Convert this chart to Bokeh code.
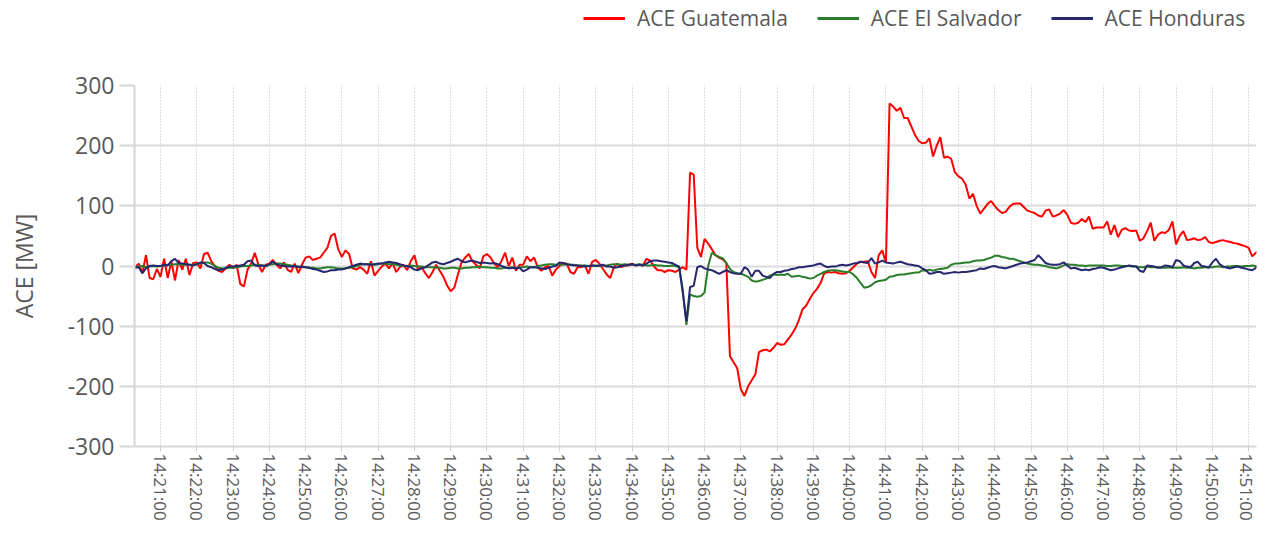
from bokeh.plotting import figure
from bokeh.layouts import column
from bokeh.models import FixedTicker, Range1d, Legend, LegendItem
from bokeh.embed import file_html
from bokeh.resources import INLINE

# Sampling grid: seconds after 14:20:00, one sample every 6 s starting 14:20:18
start_seconds = 18
step_seconds = 6

ace_guatemala = [
    -2, 4, -12, 18, -20, -22, -5,                       # 14:20:18-
    -18, 12, -20, 8, -24, 10, -6, 12, -15, 5,           # 14:21
    6, -4, 20, 22, 8, 0, -8, -10, -4, 2,                # 14:22
    -4, 2, -30, -34, -6, 4, 22, 2, -10, 2,              # 14:23
    4, 10, 2, -4, 6, -6, -10, 4, -12, 2,                # 14:24
    14, 16, 10, 12, 14, 22, 30, 50, 54, 28,             # 14:25
    15, 26, 20, -4, -6, -2, -6, -13, 8, -16,            # 14:26
    -8, -1, 4, -4, 5, -10, -2, 2, -7, 8,                # 14:27
    18, -6, -2, -12, -20, -10, 2, -8, -18, -32,         # 14:28
    -42, -36, -14, 6, 14, 20, 8, 2, -4, 16,             # 14:29
    20, 14, 4, -2, 8, 22, 0, 14, -8, 2,                 # 14:30
    2, 16, 8, 14, -2, -8, -2, 0, -16, -6,               # 14:31
    0, 4, 4, -10, -13, -2, -2, 1, -13, 7,               # 14:32
    10, 4, -5, -14, -20, -2, 4, -2, 1, 1,               # 14:33
    4, 1, 2, 1, 12, 9, 0, -7, -7, -10,                  # 14:34
    -7, -8, -10, -6, -2, -6, 155, 152, 30, 15,          # 14:35
    45, 37, 28, 18, 14, 11, 5, -150, -160, -170,        # 14:36
    -205, -216, -200, -190, -180, -143, -140, -139, -142, -136,  # 14:37
    -128, -131, -130, -122, -114, -104, -90, -72, -66, -55,      # 14:38
    -45, -38, -28, -12, -10, -11, -10, -12, -13, -12,   # 14:39
    -8, -2, 4, 7, 7, 8, -10, -20, 18, 26,               # 14:40
    5, 270, 265, 258, 263, 246, 246, 232, 218, 208,     # 14:41
    204, 205, 212, 182, 200, 214, 180, 182, 178, 156,   # 14:42
    149, 145, 135, 112, 120, 100, 87, 95, 103, 108,     # 14:43
    100, 93, 88, 90, 98, 103, 104, 104, 98, 92,         # 14:44
    90, 88, 84, 82, 92, 94, 82, 84, 87, 93,             # 14:45
    85, 72, 70, 72, 78, 73, 82, 62, 64, 64,             # 14:46
    64, 74, 52, 68, 48, 60, 63, 59, 58, 59,             # 14:47
    42, 46, 58, 72, 42, 52, 56, 55, 60, 74,             # 14:48
    36, 50, 58, 43, 44, 46, 43, 44, 48, 40,             # 14:49
    38, 40, 42, 43, 41, 40, 38, 37, 35, 33,             # 14:50
    30, 16, 22, 24, 12, 20, 3,                          # 14:51
]

ace_el_salvador = [
    -2, -1, 0, -2, -1, 0, -1,                           # 14:20:18-
    0, 1, 2, 2, 3, 3, 2, 3, 2, 2,                       # 14:21
    3, 4, 6, 6, 4, 0, -3, -4, -4, -3,                   # 14:22
    -3, -2, -1, 0, 0, 1, 2, 2, 1, 0,                    # 14:23
    2, 3, 4, 4, 3, 2, 1, 0, -1, -2,                     # 14:24
    -2, -3, -3, -4, -4, -3, -2, -2, -3, -4,             # 14:25
    -4, -4, -3, -2, 0, 2, 3, 3, 3, 2,                   # 14:26
    3, 4, 4, 3, 3, 2, 1, 0, 0, 1,                       # 14:27
    0, -1, -1, -2, -2, -2, -3, -3, -4, -4,              # 14:28
    -3, -3, -4, -4, -3, -3, -2, -2, -1, -2,             # 14:29
    -2, -3, -3, -4, -4, -3, -3, -2, -3, -2,             # 14:30
    -2, -1, -2, -2, 0, 1, 2, 3, 3, 2,                   # 14:31
    3, 2, 3, 2, 2, 1, 1, 1, 0, 1,                       # 14:32
    1, 0, 1, 1, 2, 3, 3, 2, 3, 2,                       # 14:33
    2, 2, 3, 2, 1, 1, 2, 1, 1, 0,                       # 14:34
    0, 1, 0, -2, -40, -98, -47, -50, -51, -50,          # 14:35
    -44, 0, 22, 18, 15, 13, 5, -5, -10, -12,            # 14:36
    -13, -15, -18, -24, -26, -25, -23, -21, -16, -14,   # 14:37
    -15, -14, -15, -13, -18, -17, -16, -18, -19, -21,   # 14:38
    -20, -16, -13, -10, -8, -7, -7, -8, -9, -10,        # 14:39
    -10, -14, -20, -28, -36, -35, -32, -27, -25, -24,   # 14:40
    -23, -18, -17, -15, -14, -14, -13, -12, -11, -11,   # 14:41
    -7, -8, -6, -8, -6, -5, -4, -3, 2, 4,               # 14:42
    4, 5, 6, 6, 8, 9, 9, 10, 12, 14,                    # 14:43
    17, 17, 15, 14, 12, 12, 10, 8, 6, 4,                # 14:44
    3, 2, 2, 1, 0, -2, -3, -4, -2, 1,                   # 14:45
    3, 2, 2, 1, 1, 0, 1, 1, 1, 1,                       # 14:46
    1, 0, 0, 1, 1, 0, 0, 0, -1, -1,                     # 14:47
    -2, -2, -1, -2, -2, -2, -3, -3, -2, -3,             # 14:48
    -3, -3, -2, -3, -3, -4, -3, -3, -2, -2,             # 14:49
    -2, -1, -1, -2, -1, -1, 0, 0, -1, 0,                # 14:50
    0, 1, 0, 1, 0, 1, 0,                                # 14:51
]

ace_honduras = [
    -3, -2, -12, -4, 0, 1, 0,                           # 14:20:18-
    0, 2, 1, 8, 12, 5, 4, 3, 2, 1,                      # 14:21
    3, 6, 5, 0, -2, -5, -7, -6, -3, -1,                 # 14:22
    -1, 0, 1, 2, 8, 9, 1, 0, 1, 0,                      # 14:23
    3, 7, 3, 1, 0, -1, -1, 0, -2, -1,                   # 14:24
    -2, -3, -5, -6, -8, -10, -9, -7, -7, -6,            # 14:25
    -6, -4, -2, 0, 2, 4, 3, 3, 2, 3,                    # 14:26
    4, 4, 6, 7, 6, 5, 3, 1, 0, -2,                      # 14:27
    -6, -7, -4, -2, 2, 6, 7, 4, 3, 5,                   # 14:28
    7, 10, 12, 8, 6, 8, 9, 7, 5, 6,                     # 14:29
    5, 4, 5, 3, 0, -2, -4, -3, -4, -3,                  # 14:30
    -9, -6, -2, -2, -3, -4, -5, -3, -1, 0,              # 14:31
    6, 5, 3, 2, 1, 1, 0, -1, 0, 1,                      # 14:32
    0, 1, 2, -1, -1, -3, -2, 0, 1, 2,                   # 14:33
    3, 1, 2, 1, 4, 8, 9, 9, 8, 7,                       # 14:34
    6, 5, 2, -1, -45, -92, -35, -33, -2, 0,             # 14:35
    -4, -6, -7, -10, -13, -10, -7, -10, -12, -13,       # 14:36
    -13, -2, -6, -18, -8, -8, -16, -18, -20, -13,       # 14:37
    -10, -10, -8, -7, -5, -4, -2, -2, -1, 0,            # 14:38
    1, 3, 4, 0, -2, -1, -1, 1, 2, 1,                    # 14:39
    2, 4, 5, 7, 6, 5, 13, 4, 6, 9,                      # 14:40
    6, 5, 4, 6, 7, 5, 3, 2, 1, 0,                       # 14:41
    -4, -7, -13, -12, -10, -10, -13, -12, -11, -10,     # 14:42
    -11, -10, -10, -9, -8, -7, -4, -5, -3, -1,          # 14:43
    0, -2, -3, -4, -2, 0, 2, 4, 5, 6,                   # 14:44
    8, 10, 18, 12, 5, 3, 2, 2, 3, 6,                    # 14:45
    1, -4, -3, -5, -7, -6, -7, -5, -4, -2,              # 14:46
    -3, -5, -7, -6, -4, -2, -1, 1, 0, -1,               # 14:47
    -8, -10, 1, 0, -1, -3, -2, 1, 0, -2,                # 14:48
    10, 8, 1, -1, -2, 5, 7, 0, -1, -3,                  # 14:49
    6, 12, 3, -1, -3, -4, -2, -1, -3, -4,               # 14:50
    -6, -7, -3, 0, 1, -2, -4,                           # 14:51
]

series_names = ["ACE Guatemala", "ACE El Salvador", "ACE Honduras"]
series_colors = ["#ff0000", "#2a7d2a", "#27276f"]

tick_labels = [
    "14:21:00", "14:22:00", "14:23:00", "14:24:00", "14:25:00", "14:26:00",
    "14:27:00", "14:28:00", "14:29:00", "14:30:00", "14:31:00", "14:32:00",
    "14:33:00", "14:34:00", "14:35:00", "14:36:00", "14:37:00", "14:38:00",
    "14:39:00", "14:40:00", "14:41:00", "14:42:00", "14:43:00", "14:44:00",
    "14:45:00", "14:46:00", "14:47:00", "14:48:00", "14:49:00", "14:50:00",
    "14:51:00",
]
tick_seconds = [60 * (i + 1) for i in range(len(tick_labels))]
y_ticks = [-300, -200, -100, 0, 100, 200, 300]
y_tick_labels = ["-300", "-200", "-100", "0", "100", "200", "300"]

FONT = "Open Sans"
TEXT = "#595959"
W = 1257

x = [start_seconds + step_seconds * i for i in range(len(ace_guatemala))]

# ---- legend strip on top ----
p_leg = figure(width=W, height=40, output_backend="svg", toolbar_location=None,
               x_range=Range1d(0, 1), y_range=Range1d(0, 1),
               x_axis_location=None, y_axis_location=None,
               min_border_left=134, min_border_right=1, min_border_top=0,
               min_border_bottom=0)
p_leg.outline_line_color = None
p_leg.xgrid.visible = False
p_leg.ygrid.visible = False
# legend-only renderers, placed outside the visible range
leg_renderers = [p_leg.line([0, 1], [-5, -5], line_color=c, line_width=3)
                 for c in series_colors]
legend = Legend(
    items=[LegendItem(label=n, renderers=[r]) for n, r in zip(series_names, leg_renderers)],
    location=(449, 8), orientation="horizontal",
    glyph_width=42, glyph_height=20, label_standoff=12, spacing=29,
    padding=0, margin=0, border_line_color=None, background_fill_alpha=0,
    label_text_font=FONT, label_text_font_size="21px", label_text_color=TEXT,
)
p_leg.add_layout(legend)

# ---- main chart ----
p = figure(width=W, height=483, output_backend="svg", toolbar_location=None,
           x_range=Range1d(17, 1873), y_range=Range1d(-300, 300),
           min_border_left=134, min_border_right=1, min_border_top=45,
           min_border_bottom=76)
p.outline_line_color = None

for vals, col in zip([ace_guatemala, ace_el_salvador, ace_honduras], series_colors):
    p.line(x, vals, line_color=col, line_width=2)

p.xaxis.ticker = FixedTicker(ticks=tick_seconds)
p.xaxis.major_label_overrides = {t: l for t, l in zip(tick_seconds, tick_labels)}
p.xaxis.major_label_orientation = "vertical"
p.xaxis.major_label_text_font = FONT
p.xaxis.major_label_text_font_size = "17px"
p.xaxis.major_label_text_color = TEXT
p.xaxis.major_label_standoff = 2
p.xaxis.major_tick_out = 5
p.xaxis.major_tick_in = 0
p.xaxis.minor_tick_line_color = None
p.xaxis.major_tick_line_color = "#cfcfcf"
p.xaxis.axis_line_color = "#d6d6d6"
p.xaxis.axis_line_width = 2

p.yaxis.ticker = FixedTicker(ticks=y_ticks)
p.yaxis.major_label_overrides = {t: l for t, l in zip(y_ticks, y_tick_labels)}
p.yaxis.major_label_text_font = FONT
p.yaxis.major_label_text_font_size = "23px"
p.yaxis.major_label_text_color = TEXT
p.yaxis.major_label_standoff = 5
p.yaxis.major_tick_out = 15
p.yaxis.major_tick_in = 0
p.yaxis.major_tick_line_color = "#d6d6d6"
p.yaxis.major_tick_line_width = 2
p.yaxis.minor_tick_line_color = None
p.yaxis.axis_line_color = "#d6d6d6"
p.yaxis.axis_line_width = 2
p.yaxis.axis_label = "ACE [MW]"
p.yaxis.axis_label_text_font = FONT
p.yaxis.axis_label_text_font_size = "23px"
p.yaxis.axis_label_text_font_style = "normal"
p.yaxis.axis_label_text_color = TEXT
p.yaxis.axis_label_standoff = 25

p.xgrid.grid_line_color = "#bdbdbd"
p.xgrid.grid_line_dash = "1 2"
p.xgrid.grid_line_width = 1
p.ygrid.grid_line_color = "#dadada"
p.ygrid.grid_line_width = 2

layout = column(p_leg, p, spacing=0)
open("out.html", "w").write(file_html(layout, INLINE))
